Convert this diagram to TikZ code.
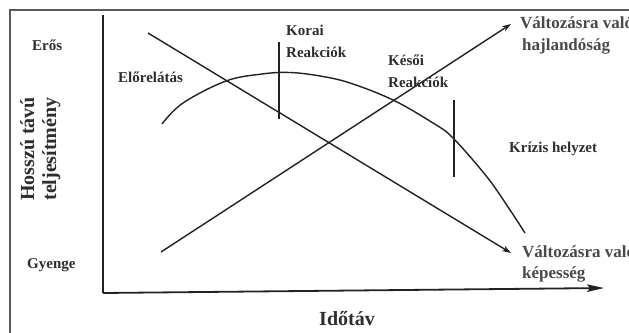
\documentclass[tikz,border=0pt]{standalone}
\usepackage{fontspec}
\setmainfont{Liberation Serif}
\usetikzlibrary{arrows.meta}
\definecolor{ink}{HTML}{222222}
\definecolor{txt}{HTML}{2E2E2E}
\definecolor{txtb}{HTML}{4A4A4A}
\definecolor{frame}{HTML}{5A5A5A}
\begin{document}
\begin{tikzpicture}[x=1pt,y=-1pt,
  lbl/.style={font=\bfseries\fontsize{15}{18}\selectfont, text=txt, inner sep=0pt, anchor=base west},
  biglbl/.style={font=\bfseries\fontsize{17}{20}\selectfont, text=txtb, inner sep=0pt, anchor=base west},
  axlbl/.style={font=\bfseries\fontsize{20}{24}\selectfont, text=txt, inner sep=0pt, anchor=base},
  axisline/.style={draw=ink, line width=1.8pt},
  curveline/.style={draw=ink, line width=1.4pt},
  tickline/.style={draw=ink, line width=1.1pt},
  arrline/.style={draw=ink, line width=1.4pt, -{Stealth[length=9pt,width=6pt]}},
]
\clip (0,0) rectangle (629,332);
\fill[white] (0,0) rectangle (629,332);
% frame
\coordinate (fb) at (10,345);
\coordinate (ftl) at (10,10);
\coordinate (fr) at (645,10);
\draw[frame, line width=1.5pt] (fb) -- (ftl) -- (fr);
% axes
\coordinate (ytop) at (103,15);
\coordinate (orig) at (103,293);
\coordinate (xend) at (604,288);
\draw[axisline] (ytop) -- (orig);
\draw[axisline, -{Stealth[length=17pt,width=7.5pt,inset=3pt]}] (orig) -- (xend);
% lines
\coordinate (dA) at (148,33);
\coordinate (dB) at (511,253);
\draw[arrline] (dA) -- (dB);
\coordinate (uA) at (161,252);
\coordinate (uB) at (511,24);
\draw[arrline] (uA) -- (uB);
% curve
\draw[curveline] plot[smooth, tension=0.6] coordinates {(162,124) (183,103) (226,81) (262,74) (290,72.5) (320,76) (350,83) (393,100) (433,123) (453,138) (487,177) (510,210) (525,233)};
% ticks
\coordinate (t1a) at (279,42);
\coordinate (t1b) at (279,119);
\draw[tickline] (t1a) -- (t1b);
\coordinate (t2a) at (454,100);
\coordinate (t2b) at (454,177);
\draw[tickline] (t2a) -- (t2b);
% labels
\node[lbl] (eros) at (32,50) {Erős};
\node[lbl] (gyenge) at (27,268) {Gyenge};
\node[lbl] (elore) at (118,82) {Előrelátás};
\node[lbl] (korai1) at (286,35) {Korai};
\node[lbl] (korai2) at (286,57) {Reakciók};
\node[lbl] (kesoi1) at (388,65) {Késői};
\node[lbl] (kesoi2) at (388,87) {Reakciók};
\node[lbl] (krizis) at (509,152) {Krízis helyzet};
\node[biglbl] (hajl1) at (520,28) {Változásra való};
\node[biglbl] (hajl2) at (522,50) {hajlandóság};
\node[biglbl] (kep1) at (522,257) {Változásra való};
\node[biglbl] (kep2) at (522,278) {képesség};
\node[axlbl] (ido) at (347,325) {Időtáv};
\node[axlbl, rotate=90] (ylab1) at (34,149) {Hosszú távú};
\node[axlbl, rotate=90] (ylab2) at (56,149) {teljesítmény};
\end{tikzpicture}
\end{document}
